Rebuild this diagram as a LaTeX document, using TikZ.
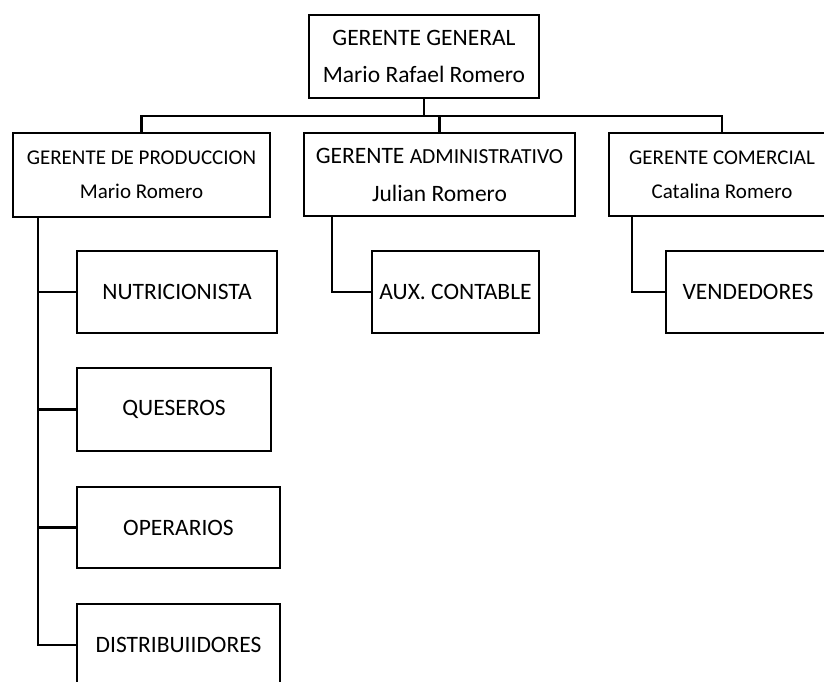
\documentclass[tikz,border=0pt]{standalone}
\usepackage{fontspec}
\setmainfont{Carlito}
\begin{document}
\begin{tikzpicture}[x=1pt,y=-1pt,
  box/.style={draw=black,line width=2.6pt,fill=white,inner sep=0pt,align=center,anchor=center},
  conn/.style={draw=black,line width=2.4pt},
  big/.style={font=\fontsize{23.5}{37}\selectfont},
  mid/.style={font=\fontsize{21}{34}\selectfont}]
\useasboundingbox (0,0) rectangle (824,682);
\clip (0,0) rectangle (824,682);
% level 0
\node[box,big,minimum width=230pt,minimum height=83pt] (top) at (424,56.5) {GERENTE GENERAL\\Mario Rafael Romero};
% level 1
\node[box,mid,minimum width=257pt,minimum height=84pt] (prod) at (141.5,175) {GERENTE DE PRODUCCION\\Mario Romero};
\node[box,minimum width=271pt,minimum height=83pt,font=\fontsize{23.5}{38}\selectfont] (admin) at (439.5,174.5) {GERENTE {\fontsize{21.5}{26}\selectfont ADMINISTRATIVO}\\Julian Romero};
\node[box,mid,minimum width=226pt,minimum height=83pt] (com) at (722,174.5) {GERENTE COMERCIAL\\Catalina Romero};
% level 2
\node[box,big,minimum width=200pt,minimum height=82pt] (nutri) at (177,292) {NUTRICIONISTA};
\node[box,big,minimum width=194pt,minimum height=83pt] (ques) at (174,409.5) {QUESEROS};
\node[box,big,minimum width=203pt,minimum height=81pt] (oper) at (178.5,527.5) {OPERARIOS};
\node[box,big,minimum width=203pt,minimum height=82pt] (dist) at (178.5,645) {DISTRIBUIIDORES};
\node[box,big,minimum width=167pt,minimum height=82pt] (aux) at (455.5,292) {AUX. CONTABLE};
\node[box,big,minimum width=164pt,minimum height=82pt] (vend) at (748,292) {VENDEDORES};
% helper coordinates
\coordinate (bar) at (0,116);
\coordinate (pv) at (38,0);
\coordinate (av) at (332,0);
\coordinate (cv) at (632,0);
% connectors
\draw[conn] (top.south) -- (top.south |- bar);
\draw[conn] (prod.north) -- (prod.north |- bar) -- (com.north |- bar) -- (com.north);
\draw[conn] (admin.north) -- (admin.north |- bar);
\draw[conn] (pv |- prod.south) |- (dist.west);
\draw[conn] (pv |- nutri.west) -- (nutri.west);
\draw[conn] (pv |- ques.west) -- (ques.west);
\draw[conn] (pv |- oper.west) -- (oper.west);
\draw[conn] (av |- admin.south) |- (aux.west);
\draw[conn] (cv |- com.south) |- (vend.west);
\end{tikzpicture}
\end{document}
